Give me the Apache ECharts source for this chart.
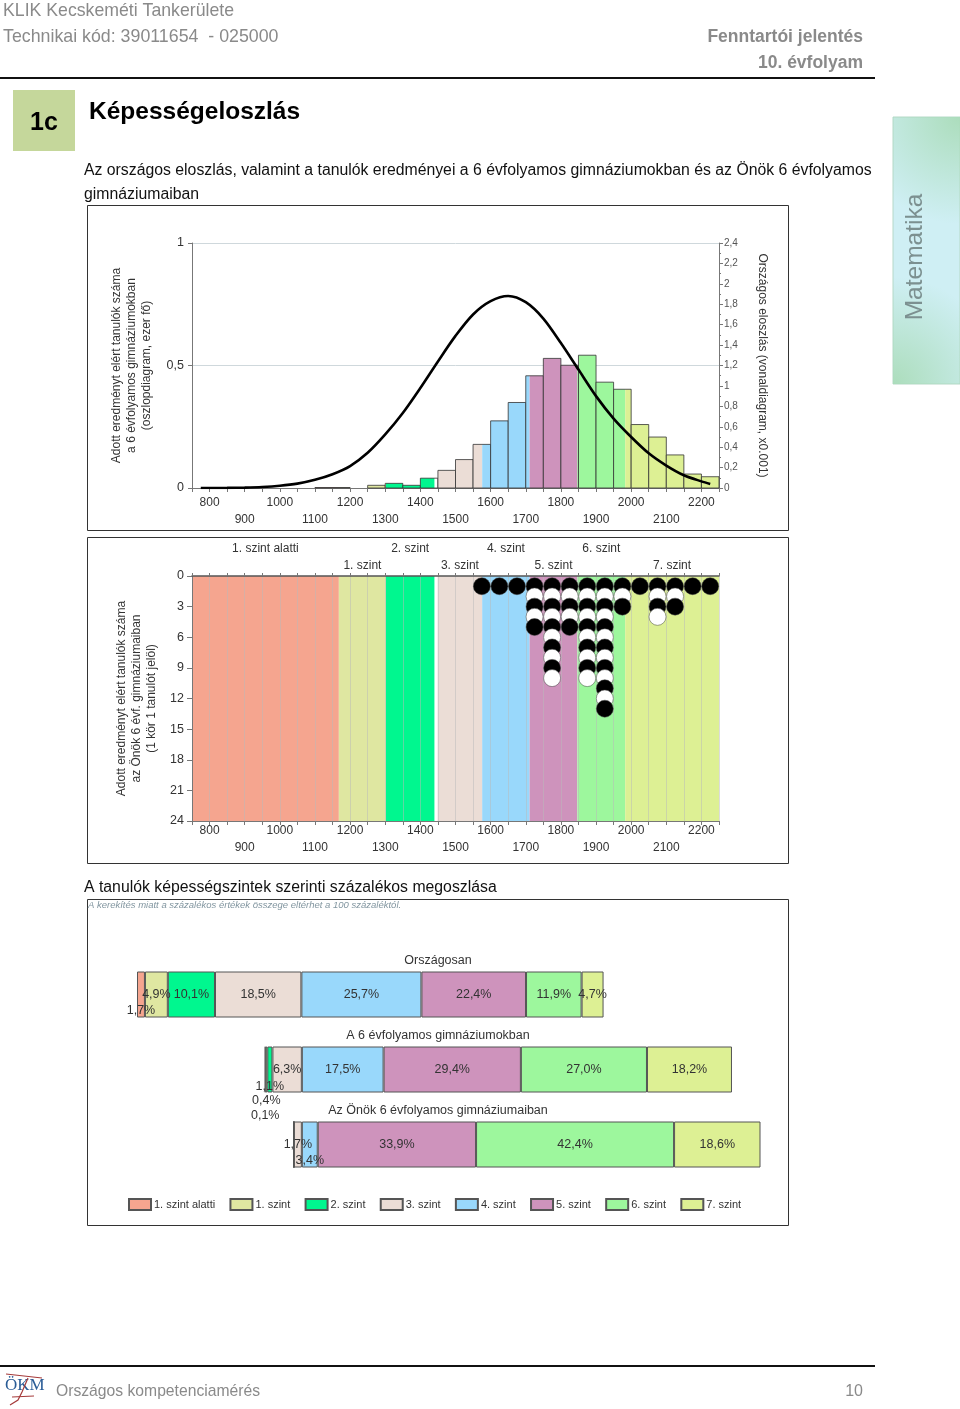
<!DOCTYPE html>
<html lang="en">
<head>
    <meta charset="UTF-8">
    <title>Képességeloszlás</title>
    <style>
        html, body { margin: 0; padding: 0; background: #fff; }
    </style>
</head>
<body>
<div class="main" style="width: 960px;height: 1409px;"></div>
<script src="https://cdn.jsdelivr.net/npm/echarts@6/dist/echarts.min.js"></script>
<script>
    // kepessegszintek
    var levelNames = ['1. szint alatti', '1. szint', '2. szint', '3. szint', '4. szint', '5. szint', '6. szint', '7. szint'];
    var levelColors = ['#F5A58F', '#DFE7A1', '#00F78F', '#EBDDD6', '#99D8FB', '#CE93BC', '#9DF79D', '#DDF094'];
    var levelStarts = [750, 1168, 1302, 1449, 1576, 1711, 1847, 1983];
    var levelEnds = [1168, 1302, 1440, 1576, 1711, 1847, 1983, 2250];

    // felso diagram: oszlopok (ezer fo)
    var binStarts = [1100, 1150, 1250, 1300, 1350, 1400, 1450, 1500, 1550, 1600, 1650, 1700, 1750, 1800, 1850, 1900, 1950, 2000, 2050, 2100, 2150, 2200];
    var binValues = [0.002, 0.002, 0.011, 0.019, 0.011, 0.040, 0.072, 0.116, 0.178, 0.274, 0.349, 0.458, 0.529, 0.501, 0.542, 0.432, 0.403, 0.259, 0.208, 0.135, 0.057, 0.046];

    // felso diagram: orszagos eloszlas gorbe
    var curveX = [775, 850, 900, 950, 1000, 1050, 1100, 1150, 1200, 1250, 1300, 1350, 1400, 1450, 1500, 1550, 1600, 1650, 1700, 1750, 1800, 1850, 1900, 1950, 2000, 2050, 2100, 2150, 2200, 2225];
    var curveY = [0, 0.001, 0.004, 0.010, 0.022, 0.043, 0.08, 0.135, 0.215, 0.345, 0.525, 0.735, 0.98, 1.24, 1.49, 1.70, 1.83, 1.881, 1.82, 1.66, 1.42, 1.16, 0.90, 0.68, 0.50, 0.34, 0.22, 0.125, 0.065, 0.04];

    // kozepso diagram: tanulok szama oszloponkent (1 kor 1 tanulo)
    var dotColumns = [1575, 1625, 1675, 1725, 1775, 1825, 1875, 1925, 1975, 2025, 2075, 2125, 2175, 2225];
    var dotCounts = [1, 1, 1, 5, 10, 5, 10, 13, 3, 1, 4, 3, 1, 1];

    // also diagram: szazalekos megoszlas
    var groupNames = ['Országosan', 'A 6 évfolyamos gimnáziumokban', 'Az Önök 6 évfolyamos gimnáziumaiban'];
    var groupOffsets = [0, 27.4, 33.6];
    var groupShares = [
        [1.7, 0.1, 0],
        [4.9, 0.4, 0],
        [10.1, 1.1, 0],
        [18.5, 6.3, 1.7],
        [25.7, 17.5, 3.4],
        [22.4, 29.4, 33.9],
        [11.9, 27.0, 42.4],
        [4.7, 18.2, 18.6]
    ];

    var textFont = '"Liberation Sans", Arial, sans-serif';
    var axisGrey = '#777';
    var labelDark = '#333';

    var main = document.querySelector(".main");
    var mainEcharts = echarts.init(main);

    // also diagram: a kis szegmensek cimket lejjebb kell tenni
    function labelDrop(level, group) {
        if (group === 0 && level === 0) return 16;
        if (group === 1 && level === 2) return 17;
        if (group === 1 && level === 1) return 31;
        if (group === 1 && level === 0) return 46;
        if (group === 2 && level === 4) return 16;
        return 0;
    }

    function commaText(value) {
        return String(value).replace('.', ',');
    }

    function hundredLabels(rest) {
        return function (value) {
            return value % 200 === rest ? String(value) : '';
        };
    }

    // egy x tengely a ket sor felirat egyikehez
    function scoreAxis(gridIndex, rest, offset, margin) {
        return {
            type: 'value',
            gridIndex: gridIndex,
            min: 750,
            max: 2250,
            interval: 50,
            position: 'bottom',
            offset: offset,
            axisLine: { show: offset === 0, onZero: false, lineStyle: { color: axisGrey } },
            axisTick: { show: offset === 0, length: 4, inside: false, lineStyle: { color: axisGrey } },
            axisLabel: {
                fontFamily: textFont, fontSize: 12, color: labelDark, margin: margin,
                showMinLabel: true, showMaxLabel: true,
                formatter: hundredLabels(rest)
            },
            splitLine: { show: gridIndex === 1 && offset === 0, lineStyle: { color: 'rgba(185,185,185,0.5)' } }
        };
    }

    // oszlop szinezese: a szintek hataran ketteved
    function renderBin(params, api) {
        var start = api.value(0), end = start + 50, value = api.value(1);
        var children = [];
        levelStarts.forEach(function (levelStart, i) {
            var from = Math.max(start, levelStart), to = Math.min(end, levelEnds[i]);
            if (to <= from) return;
            var a = api.coord([from, value]), b = api.coord([to, 0]);
            children.push({
                type: 'rect',
                shape: { x: a[0], y: a[1], width: b[0] - a[0], height: b[1] - a[1] },
                style: { fill: levelColors[i] }
            });
        });
        var p = api.coord([start, value]), q = api.coord([end, 0]);
        children.push({
            type: 'rect',
            shape: { x: p[0], y: p[1], width: q[0] - p[0], height: q[1] - p[1] },
            style: { fill: 'none', stroke: '#333', lineWidth: 1, opacity: 0.8 }
        });
        return { type: 'group', children: children };
    }

    // hatter savok a szint nevevel
    function renderBand(params, api) {
        var i = params.dataIndex;
        var a = api.coord([api.value(0), 0]), b = api.coord([api.value(1), 24]);
        var centre = (a[0] + b[0]) / 2;
        return {
            type: 'group',
            children: [{
                type: 'rect',
                shape: { x: a[0], y: a[1], width: b[0] - a[0], height: b[1] - a[1] },
                style: { fill: levelColors[i] },
                z2: 0
            }, {
                type: 'text',
                style: {
                    x: centre, y: a[1] - (i % 2 ? 10 : 27),
                    text: levelNames[i], align: 'center', verticalAlign: 'middle',
                    fontFamily: textFont, fontSize: 12, fill: labelDark
                }
            }]
        };
    }

    var binData = binStarts.map(function (start, i) { return [start, binValues[i]]; });
    var curveData = curveX.map(function (x, i) { return [x, curveY[i]]; });
    var bandData = levelStarts.map(function (start, i) { return [start, levelEnds[i]]; });
    var dotData = [];
    dotColumns.forEach(function (x, i) {
        for (var k = 1; k <= dotCounts[i]; k++) dotData.push([x, k]);
    });

    var shareSeries = [{
        type: 'bar',
        name: 'offset',
        stack: 'share',
        xAxisIndex: 5,
        yAxisIndex: 3,
        barWidth: 46,
        itemStyle: { color: 'transparent', borderWidth: 0 },
        silent: true,
        data: groupOffsets
    }];
    levelNames.forEach(function (name, level) {
        shareSeries.push({
            type: 'bar',
            name: name,
            stack: 'share',
            xAxisIndex: 5,
            yAxisIndex: 3,
            barWidth: 46,
            itemStyle: { color: levelColors[level], borderColor: '#555', borderWidth: 1 },
            label: {
                show: true,
                position: 'inside',
                fontFamily: textFont,
                fontSize: 12.5,
                color: labelDark,
                formatter: function (p) {
                    return p.value ? commaText(p.value.toFixed(1)) + '%' : '';
                }
            },
            data: groupShares[level].map(function (value, group) {
                return { value: value, label: { offset: [0, labelDrop(level, group)] } };
            })
        });
    });

    function pageText(x, y, text, style) {
        return {
            type: 'text',
            x: x,
            y: y + 1,
            style: Object.assign({
                text: text, fontFamily: textFont, fontSize: 15, fill: '#000',
                align: 'left', verticalAlign: 'middle'
            }, style || {})
        };
    }

    function frame(x, y, w, h) {
        return {
            type: 'rect',
            shape: { x: x + 0.5, y: y + 0.5, width: w, height: h },
            style: { fill: 'none', stroke: '#333', lineWidth: 1 }
        };
    }

    function rule(y) {
        return {
            type: 'line',
            shape: { x1: 0, y1: y, x2: 875, y2: y },
            style: { stroke: '#111', lineWidth: 2 }
        };
    }

    function logoStroke(points) {
        return {
            type: 'polyline',
            shape: { points: points },
            style: { fill: 'none', stroke: '#a53a3a', lineWidth: 1.2 }
        };
    }

    var headGrey = '#8a8a8a';
    var tabGreen = 'rgba(170,220,185,0.95)';
    var tabClear = 'rgba(170,220,185,0)';
    var pageItems = [
        pageText(3, 10, 'KLIK Kecskeméti Tankerülete', { fontSize: 17.7, fill: headGrey }),
        pageText(3, 36, 'Technikai kód: 39011654  - 025000', { fontSize: 17.8, fill: headGrey }),
        pageText(863, 36, 'Fenntartói jelentés', { fontSize: 17.5, fontWeight: 'bold', fill: headGrey, align: 'right' }),
        pageText(863, 62, '10. évfolyam', { fontSize: 17.5, fontWeight: 'bold', fill: headGrey, align: 'right' }),
        rule(78),
        {
            type: 'rect',
            shape: { x: 13, y: 90, width: 62, height: 61 },
            style: { fill: '#C5D79B' }
        },
        pageText(44, 122, '1c', { fontSize: 25, fontWeight: 'bold', align: 'center' }),
        pageText(89, 111, 'Képességeloszlás', { fontSize: 24.5, fontWeight: 'bold' }),
        pageText(84, 169.5, 'Az országos eloszlás, valamint a tanulók eredményei a 6 évfolyamos gimnáziumokban és az Önök 6 évfolyamos', { fontSize: 15.8, fill: '#111' }),
        pageText(84, 193.5, 'gimnáziumaiban', { fontSize: 15.8, fill: '#111' }),
        frame(87, 205, 701, 325),
        frame(87, 537, 701, 326),
        pageText(84, 887, 'A tanulók képességszintek szerinti százalékos megoszlása', { fontSize: 15.8, fill: '#111' }),
        frame(87, 899, 701, 326),
        pageText(88, 904, 'A kerekítés miatt a százalékos értékek összege eltérhet a 100 százaléktól.', { fontSize: 9.5, fontStyle: 'italic', fill: '#8296a0' }),
        pageText(438, 960, groupNames[0], { fontSize: 12.5, align: 'center', fill: labelDark }),
        pageText(438, 1035, groupNames[1], { fontSize: 12.5, align: 'center', fill: labelDark }),
        pageText(438, 1110, groupNames[2], { fontSize: 12.5, align: 'center', fill: labelDark }),
        // oldalso ful
        {
            type: 'rect',
            shape: { x: 893, y: 117, width: 67, height: 267 },
            style: { fill: '#CFEFF4', stroke: '#b5d8c8', lineWidth: 1 }
        },
        {
            type: 'rect',
            shape: { x: 893, y: 117, width: 67, height: 267 },
            style: {
                fill: new echarts.graphic.RadialGradient(1, 0, 1.6, [
                    { offset: 0, color: tabGreen },
                    { offset: 1, color: tabClear }
                ])
            }
        },
        {
            type: 'rect',
            shape: { x: 893, y: 117, width: 67, height: 267 },
            style: {
                fill: new echarts.graphic.RadialGradient(0, 1, 1.6, [
                    { offset: 0, color: tabGreen },
                    { offset: 1, color: tabClear }
                ])
            }
        },
        {
            type: 'text',
            x: 915,
            y: 257,
            rotation: Math.PI / 2,
            style: {
                text: 'Matematika', fontFamily: textFont, fontSize: 24.5, fill: '#7c9090',
                align: 'center', verticalAlign: 'middle'
            }
        },
        // lablec
        rule(1366),
        pageText(56, 1391, 'Országos kompetenciamérés', { fontSize: 15.7, fill: headGrey }),
        pageText(863, 1391, '10', { fontSize: 16, fill: headGrey, align: 'right' }),
        // OKM logo
        pageText(5, 1385, 'ÖKM', { fontSize: 17, fontFamily: '"Liberation Serif", serif', fill: '#2a5c96' }),
        logoStroke([[6, 1374], [42, 1378]]),
        logoStroke([[28, 1378], [22, 1392], [18, 1400], [10, 1405]]),
        logoStroke([[12, 1397], [34, 1396]])
    ];

    var option = {
        animation: false,
        textStyle: { fontFamily: textFont },
        graphic: { elements: pageItems },
        legend: {
            data: levelNames,
            left: 123,
            top: 1193,
            orient: 'horizontal',
            itemWidth: 22,
            itemHeight: 11,
            itemGap: 14.3,
            icon: 'rect',
            textStyle: { fontFamily: textFont, fontSize: 11, color: labelDark, padding: [0, 0, 0, -2] }
        },
        grid: [
            { left: 192, top: 243, width: 527, height: 245 },
            { left: 192, top: 576, width: 527, height: 245 },
            { left: 137, top: 957, width: 623, height: 225 }
        ],
        xAxis: [
            scoreAxis(0, 0, 0, 9),
            scoreAxis(0, 100, 17, 9),
            scoreAxis(1, 0, 0, 4),
            scoreAxis(1, 100, 17, 4),
            {
                type: 'value', gridIndex: 1, min: 750, max: 2250, interval: 50, position: 'top',
                axisLine: { onZero: false, lineStyle: { color: '#555', width: 1.5 } },
                axisTick: { length: 3, lineStyle: { color: axisGrey } },
                axisLabel: { show: false },
                splitLine: { show: false }
            },
            {
                type: 'value', gridIndex: 2, min: 0, max: 133.4, show: false
            }
        ],
        yAxis: [
            {
                type: 'value', gridIndex: 0, min: 0, max: 1, interval: 0.5,
                name: 'Adott eredményt elért tanulók száma\na 6 évfolyamos gimnáziumokban\n(oszlopdiagram, ezer fő)',
                nameLocation: 'middle', nameGap: 38, nameRotate: 90,
                nameTextStyle: { fontFamily: textFont, fontSize: 12, color: labelDark, lineHeight: 15 },
                axisLine: { show: true, onZero: false, lineStyle: { color: axisGrey } },
                axisTick: { show: true, length: 4, lineStyle: { color: axisGrey } },
                axisLabel: {
                    fontFamily: textFont, fontSize: 12.5, color: labelDark, margin: 8,
                    formatter: function (v) { return commaText(v); }
                },
                splitLine: { show: true, lineStyle: { color: '#cfd8dc' } }
            },
            {
                type: 'value', gridIndex: 0, min: 0, max: 2.4, interval: 0.2, position: 'right',
                name: 'Országos eloszlás (vonaldiagram, x0.001)',
                nameLocation: 'middle', nameGap: 37, nameRotate: -90,
                nameTextStyle: { fontFamily: textFont, fontSize: 12, color: labelDark },
                axisLine: { show: true, onZero: false, lineStyle: { color: axisGrey } },
                axisTick: { show: true, length: 4, lineStyle: { color: axisGrey } },
                minorTick: { show: true, splitNumber: 2, length: 2, lineStyle: { color: axisGrey } },
                axisLabel: {
                    fontFamily: textFont, fontSize: 10, color: '#555', margin: 5,
                    formatter: function (v) { return commaText(Math.round(v * 10) / 10); }
                },
                splitLine: { show: false }
            },
            {
                type: 'value', gridIndex: 1, min: 0, max: 24, interval: 3, inverse: true,
                name: 'Adott eredményt elért tanulók száma\naz Önök 6 évf. gimnáziumaiban\n(1 kör 1 tanulót jelöl)',
                nameLocation: 'middle', nameGap: 31, nameRotate: 90,
                nameTextStyle: { fontFamily: textFont, fontSize: 12, color: labelDark, lineHeight: 15 },
                axisLine: { show: true, onZero: false, lineStyle: { color: axisGrey } },
                axisTick: { show: true, length: 5, lineStyle: { color: axisGrey } },
                axisLabel: { fontFamily: textFont, fontSize: 12.5, color: labelDark, margin: 8 },
                splitLine: { show: false }
            },
            {
                type: 'category', gridIndex: 2, inverse: true, show: false, data: groupNames
            }
        ],
        series: [
            {
                type: 'custom',
                xAxisIndex: 0,
                yAxisIndex: 0,
                renderItem: renderBin,
                encode: { x: 0, y: 1 },
                data: binData,
                z: 2
            },
            {
                type: 'line',
                name: 'Országos eloszlás',
                xAxisIndex: 0,
                yAxisIndex: 1,
                smooth: 0.3,
                symbol: 'none',
                lineStyle: { color: '#000', width: 2.6 },
                data: curveData,
                z: 5
            },
            {
                type: 'custom',
                xAxisIndex: 2,
                yAxisIndex: 2,
                renderItem: renderBand,
                encode: { x: [0, 1] },
                clip: false,
                data: bandData,
                z: -1
            },
            {
                type: 'scatter',
                xAxisIndex: 2,
                yAxisIndex: 2,
                symbolSize: 17,
                itemStyle: {
                    opacity: 1,
                    borderColor: '#444',
                    borderWidth: 0.5,
                    color: function (p) { return p.data[1] % 2 ? '#000' : '#fff'; }
                },
                data: dotData,
                z: 4
            }
        ].concat(shareSeries)
    };
    mainEcharts.setOption(option);
</script>
</body>
</html>
